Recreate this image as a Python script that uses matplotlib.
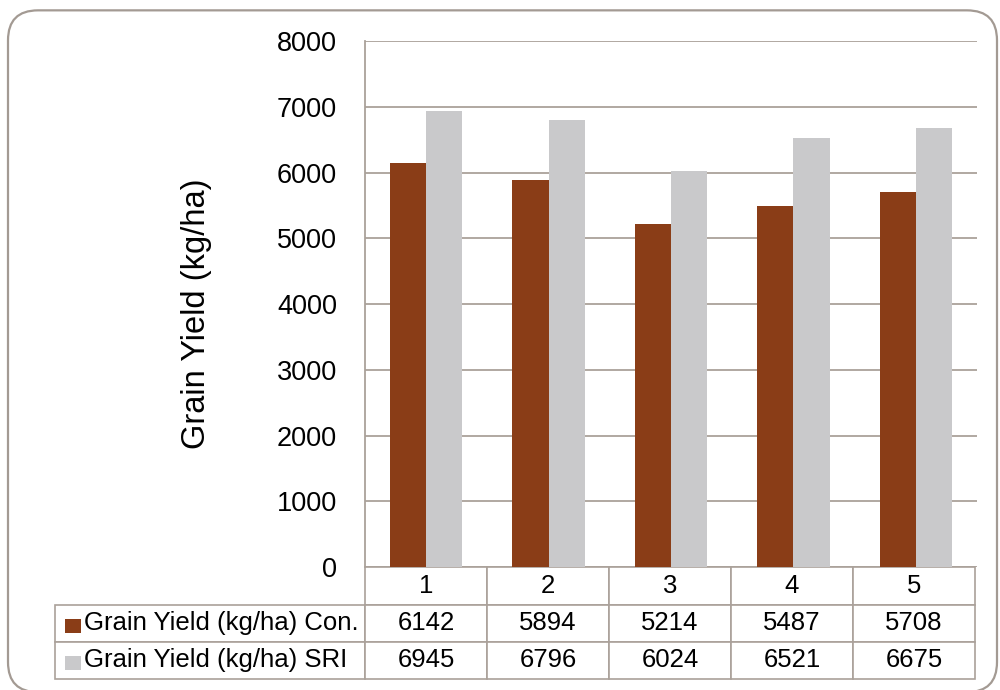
import matplotlib
matplotlib.use("Agg")
import matplotlib.pyplot as plt
import numpy as np
from matplotlib.table import Table
from matplotlib.patches import FancyBboxPatch, Rectangle

plt.rcParams['font.family'] = ['Liberation Sans', 'DejaVu Sans']

# Yield per trial site, conventional vs SRI
sites = ["1", "2", "3", "4", "5"]
con_yield = [6142, 5894, 5214, 5487, 5708]
sri_yield = [6945, 6796, 6024, 6521, 6675]
series_names = ["Grain Yield (kg/ha) Con.", "Grain Yield (kg/ha) SRI"]
series_colors = ["#8a3d17", "#c9c9cb"]
y_ticks = [0, 1000, 2000, 3000, 4000, 5000, 6000, 7000, 8000]

GRID = "#aaa19a"

fig = plt.figure(figsize=(10, 6.9), dpi=100)
ax = fig.add_axes([0.365, 0.178, 0.612, 0.7623])

x = np.arange(len(sites))
w = 0.295
ax.bar(x - w / 2, con_yield, w, color=series_colors[0], zorder=3)
ax.bar(x + w / 2, sri_yield, w, color=series_colors[1], zorder=3)

ax.set_xlim(-0.5, len(sites) - 0.5)
ax.set_ylim(0, 8000)
ax.set_yticks(y_ticks)
ax.set_xticks([])
ax.yaxis.grid(True, color=GRID, linewidth=1.3, zorder=0)
ax.tick_params(axis='y', length=0, pad=20, labelsize=19.5)
for s in ["top", "right", "bottom"]:
    ax.spines[s].set_visible(False)
ax.spines["left"].set_color(GRID)
ax.spines["left"].set_linewidth(1.3)
ax.set_ylabel("Grain Yield (kg/ha)", fontsize=23.5)
ax.yaxis.set_label_coords(-0.25, 0.481)

# data table under the axis
col_w = 122.0
lab_w = 310.0
row_h = 1.0
tbl = Table(ax, bbox=[-0.5065, -0.2129, 1.5033, 0.2129])
for j, s in enumerate(sites):
    tbl.add_cell(0, j + 1, col_w, row_h, text=s, loc="center",
                 facecolor="white", edgecolor=GRID)
for i, (name, vals) in enumerate(zip(series_names, [con_yield, sri_yield])):
    c = tbl.add_cell(i + 1, 0, lab_w, row_h, text=name, loc="left",
                     facecolor="white", edgecolor=GRID)
    c.PAD = 0.092
    for j, v in enumerate(vals):
        tbl.add_cell(i + 1, j + 1, col_w, row_h, text=str(v), loc="center",
                     facecolor="white", edgecolor=GRID)
tbl.auto_set_font_size(False)
tbl.set_fontsize(18.5)
for cell in tbl.get_celld().values():
    cell.set_linewidth(1.2)
ax.add_table(tbl)

# legend keys inside the row label cells
for i, col in enumerate(series_colors):
    yc = 1 - (624 + 37 * i + 2) / 690
    fig.add_artist(Rectangle((0.065, yc - 7 / 690), 0.016, 14 / 690,
                             transform=fig.transFigure, facecolor=col,
                             edgecolor="none"))

# rounded frame around the whole chart
frame = FancyBboxPatch((0.008, -0.003), 0.989, 0.988,
                       boxstyle="round,pad=0,rounding_size=0.03",
                       mutation_aspect=1000 / 690,
                       transform=fig.transFigure, facecolor="none",
                       edgecolor="#a39a93", linewidth=1.6)
fig.add_artist(frame)

fig.savefig("out.png", dpi=100)
